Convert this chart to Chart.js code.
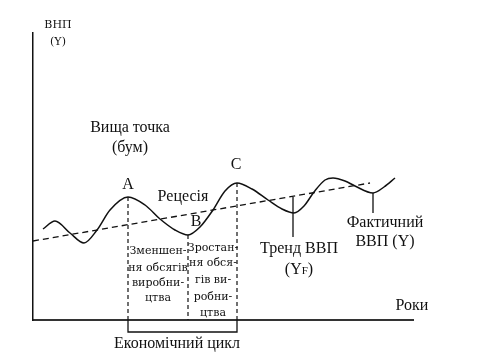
<!DOCTYPE html>
<html>
<head>
<meta charset="utf-8">
<script src="https://cdn.jsdelivr.net/npm/chart.js@4"></script>
<style>
  body { margin: 0; background: #fff; }
</style>
</head>
<body>
<canvas id="myChart" width="480" height="360"></canvas>
<script>
// Actual GDP (Y) over time, schematic units
const cycleYears = [10, 22, 37, 51, 64, 77, 95, 112, 127, 142, 155, 167, 180, 192, 204, 219, 235, 249, 261, 271, 281, 292, 300, 312, 322, 340, 351, 362];
const actualGdp = [91, 99, 87, 77, 90, 110, 123, 115, 101, 90, 85, 93, 110, 129, 137, 131, 120, 111, 107, 114, 128, 140, 142, 139, 134, 127, 133, 142];

// Trend GDP (YF)
const trendYears = [0, 337];
const trendGdp = [79, 137];

// Points A (peak), B (trough), C (peak)
const phaseNames = ["A", "B", "C"];
const phaseYears = [95, 155, 204];
const phaseGdp = [123, 85, 137];

// pointer lines to labels
const trendPointerYears = [260, 260];
const trendPointerGdp = [123, 83];
const actualPointerYears = [340, 340];
const actualPointerGdp = [127, 107];

const axisMaxYears = 380;
const axisMaxGdp = 287;

function pts(xs, ys) {
  return xs.map((x, i) => ({ x: x, y: ys[i] }));
}

const ink = "#111";

// text notes placed in data units
const notes = [
  { text: "ВНП", x: 25, y: 295, size: 11, family: "DejaVu Serif" },
  { text: "(Y)", x: 25, y: 278, size: 11, family: "DejaVu Serif" },
  { text: "Вища точка", x: 97, y: 192, size: 16 },
  { text: "(бум)", x: 97, y: 172, size: 16 },
  { text: phaseNames[0], x: 95, y: 135, size: 16 },
  { text: phaseNames[1], x: 163, y: 98, size: 16 },
  { text: phaseNames[2], x: 203, y: 155, size: 16 },
  { text: "Рецесія", x: 150, y: 123, size: 16 },
  { text: "Зменшен-", x: 125, y: 69, size: 11, family: "DejaVu Serif" },
  { text: "ня обсягів", x: 125, y: 52, size: 11, family: "DejaVu Serif" },
  { text: "виробни-", x: 125, y: 37, size: 11, family: "DejaVu Serif" },
  { text: "цтва", x: 125, y: 22, size: 11, family: "DejaVu Serif" },
  { text: "Зростан-", x: 180, y: 72, size: 11, family: "DejaVu Serif" },
  { text: "ня обся-", x: 180, y: 57, size: 11, family: "DejaVu Serif" },
  { text: "гів ви-", x: 180, y: 40, size: 11, family: "DejaVu Serif" },
  { text: "робни-", x: 180, y: 23, size: 11, family: "DejaVu Serif" },
  { text: "цтва", x: 180, y: 7, size: 11, family: "DejaVu Serif" },
  { text: "Тренд ВВП", x: 266, y: 71, size: 16 },
  { parts: [{ t: "(Y", s: 16 }, { t: "F", s: 11 }, { t: ")", s: 16 }], x: 266, y: 52 },
  { text: "Фактичний", x: 352, y: 97, size: 16 },
  { text: "ВВП (Y)", x: 352, y: 78, size: 16 },
  { text: "Роки", x: 379, y: 14, size: 16 },
  { text: "Економічний цикл", x: 144, y: -24, size: 16 },
];

const notesPlugin = {
  id: "notes",
  afterDatasetsDraw(chart) {
    const ctx = chart.ctx;
    const xs = chart.scales.x;
    const ys = chart.scales.y;
    ctx.save();
    ctx.fillStyle = ink;
    ctx.textBaseline = "middle";
    notes.forEach((n) => {
      const px = xs.getPixelForValue(n.x);
      const py = ys.getPixelForValue(n.y);
      const fam = n.family || "Liberation Serif";
      if (n.parts) {
        let total = 0;
        n.parts.forEach((p) => {
          ctx.font = `${p.s}px ${fam}`;
          total += ctx.measureText(p.t).width;
        });
        let cx = px - total / 2;
        ctx.textAlign = "left";
        ctx.textBaseline = "alphabetic";
        n.parts.forEach((p) => {
          ctx.font = `${p.s}px ${fam}`;
          ctx.fillText(p.t, cx, py + 6);
          cx += ctx.measureText(p.t).width;
        });
        ctx.textBaseline = "middle";
      } else {
        ctx.font = `${n.size}px "${fam}"`;
        ctx.textAlign = "center";
        ctx.fillText(n.text, px, py);
      }
    });
    ctx.restore();
  },
};

function vline(x, y0, y1, dashed) {
  return {
    data: [{ x: x, y: y0 }, { x: x, y: y1 }],
    showLine: true,
    borderColor: ink,
    borderWidth: dashed ? 1.2 : 1.3,
    borderDash: dashed ? [4, 3] : [],
    pointRadius: 0,
    clip: false,
  };
}

const datasets = [
  {
    label: "Фактичний ВВП",
    data: pts(cycleYears, actualGdp),
    showLine: true,
    cubicInterpolationMode: "monotone",
    borderColor: ink,
    borderWidth: 1.5,
    pointRadius: 0,
  },
  {
    label: "Тренд ВВП",
    data: pts(trendYears, trendGdp),
    showLine: true,
    borderColor: ink,
    borderWidth: 1.3,
    borderDash: [6, 4],
    pointRadius: 0,
  },
];

phaseYears.forEach((x, i) => {
  datasets.push(vline(x, phaseGdp[i], 0, true));
});
datasets.push({
  data: pts(trendPointerYears, trendPointerGdp),
  showLine: true, borderColor: ink, borderWidth: 1.3, pointRadius: 0,
});
datasets.push({
  data: pts(actualPointerYears, actualPointerGdp),
  showLine: true, borderColor: ink, borderWidth: 1.3, pointRadius: 0,
});
// bracket for the economic cycle, A to C
datasets.push({
  data: [
    { x: phaseYears[0], y: 0 },
    { x: phaseYears[0], y: -12 },
    { x: phaseYears[2], y: -12 },
    { x: phaseYears[2], y: 0 },
  ],
  showLine: true,
  borderColor: ink,
  borderWidth: 1.3,
  pointRadius: 0,
  clip: false,
});

new Chart("myChart", {
  type: "scatter",
  data: { datasets: datasets },
  plugins: [notesPlugin],
  options: {
    responsive: false,
    animation: false,
    devicePixelRatio: 1,
    layout: { padding: { left: 33, top: 33, right: 67, bottom: 40 } },
    plugins: { legend: { display: false }, tooltip: { enabled: false } },
    scales: {
      x: {
        type: "linear",
        min: 0,
        max: axisMaxYears,
        ticks: { display: false },
        grid: { display: false, drawTicks: false, tickLength: 0 },
        border: { display: true, color: "#333", width: 2 },
      },
      y: {
        type: "linear",
        min: 0,
        max: axisMaxGdp,
        ticks: { display: false },
        grid: { display: false, drawTicks: false, tickLength: 0 },
        border: { display: true, color: "#111", width: 1.5 },
      },
    },
  },
});
</script>
</body>
</html>
